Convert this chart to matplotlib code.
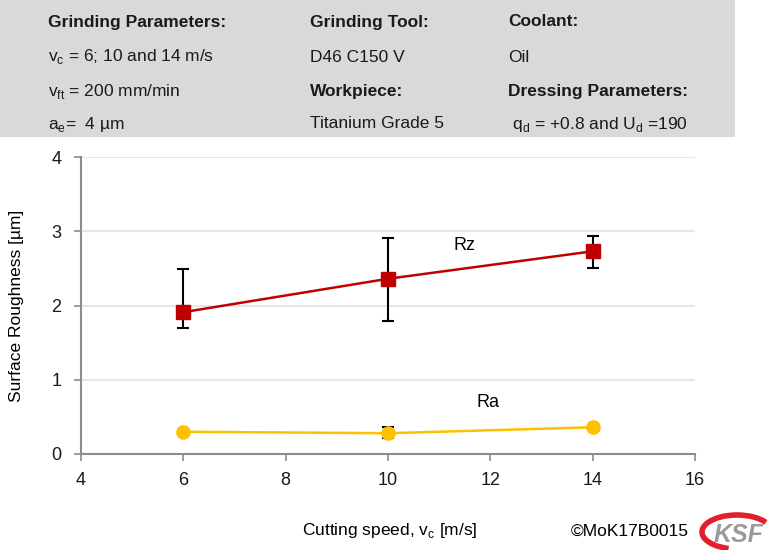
import numpy as np
import matplotlib.pyplot as plt
from matplotlib.patches import Rectangle, Arc

# data
speed = [6, 10, 14]
rz = [1.91, 2.36, 2.73]
rz_low = [1.70, 1.79, 2.51]
rz_high = [2.49, 2.91, 2.94]
ra = [0.30, 0.28, 0.36]
ra_low = [0.28, 0.22, 0.34]
ra_high = [0.32, 0.36, 0.38]

header_rows = [
    ['Grinding Parameters:', 'Grinding Tool:', 'Coolant:'],
    [r'v$_\mathregular{c}$ = 6; 10 and 14 m/s', 'D46 C150 V', 'Oil'],
    [r'v$_\mathregular{ft}$ = 200 mm/min', 'Workpiece:', 'Dressing Parameters:'],
    [r'a$_\mathregular{e}$=  4 µm', 'Titanium Grade 5', r' q$_\mathregular{d}$ = +0.8 and U$_\mathregular{d}$ =190'],
]
bold_cells = {(0, 0), (0, 1), (0, 2), (2, 1), (2, 2)}

plt.rcParams['font.family'] = ['Liberation Sans', 'DejaVu Sans']
plt.rcParams['mathtext.fontset'] = 'custom'
plt.rcParams['mathtext.rm'] = 'Liberation Sans'

fig = plt.figure(figsize=(7.69, 5.5), dpi=100)

# header box
W, H = 769, 550
fig.patches.append(Rectangle((0, 1 - 137 / H), 735 / W, 137 / H, transform=fig.transFigure,
                             facecolor='#d9d9d9', edgecolor='none', zorder=0))
col_x = [48, 310, 508]
row_y = [22, 57, 91, 124]
for r, row in enumerate(header_rows):
    for c, txt in enumerate(row):
        fig.text(col_x[c] / W, 1 - row_y[r] / H, txt, fontsize=12.5, va='center', ha='left',
                 fontweight='bold' if (r, c) in bold_cells else 'normal', color='#1a1a1a')

ax = fig.add_axes([81 / W, 1 - 454 / H, (695 - 81) / W, (454 - 157) / H])

gray = '#8c8c8c'
ax.errorbar(speed, rz, yerr=[np.subtract(rz, rz_low), np.subtract(rz_high, rz)], fmt='none',
            ecolor='black', elinewidth=1.5, capsize=4.5, capthick=1.5, zorder=2)
ax.errorbar(speed, ra, yerr=[np.subtract(ra, ra_low), np.subtract(ra_high, ra)], fmt='none',
            ecolor='black', elinewidth=1.5, capsize=4.5, capthick=1.5, zorder=2)
ax.plot(speed, rz, color='#c00000', lw=1.8, marker='s', ms=10, zorder=3)
ax.plot(speed, ra, color='#ffc000', lw=1.8, marker='o', ms=9.5, zorder=3)

ax.text(11.5, 2.81, 'Rz', fontsize=13, ha='center', va='center')
ax.text(11.95, 0.69, 'Ra', fontsize=13, ha='center', va='center')

ax.set_xlim(4, 16)
ax.set_ylim(0, 4)
ax.set_xticks(np.arange(4, 17, 2))
ax.set_yticks(np.arange(0, 5, 1))
ax.grid(axis='y', color='#e6e6e6', lw=1.5)
ax.set_axisbelow(True)
for s in ['top', 'right']:
    ax.spines[s].set_visible(False)
for s in ['left', 'bottom']:
    ax.spines[s].set_color(gray)
    ax.spines[s].set_linewidth(1.5)
ax.tick_params(colors=gray, labelcolor='#1a1a1a', labelsize=13, length=5, width=1.2)
ax.tick_params(axis='x', pad=8)
ax.tick_params(axis='y', pad=9)
ax.set_ylabel('Surface Roughness [µm]', fontsize=12.5, labelpad=20)

fig.text(390 / W, 1 - 531 / H, r'Cutting speed, v$_\mathregular{c}$ [m/s]', fontsize=12.5,
         ha='center', va='center')
fig.text(689 / W, 1 - 531 / H, '©MoK17B0015', fontsize=12.5, ha='right', va='center')

# KSF logo
fig.patches.append(Arc((737 / W, 1 - 532 / H), 70 / W, 34 / H, theta1=25, theta2=250,
                       transform=fig.transFigure, color='#e0202a', lw=4))
fig.text(738 / W, 1 - 535 / H, 'KSF', fontsize=18, fontweight='bold', style='italic',
         color='#9a9a9a', ha='center', va='center')

plt.savefig('out.png', dpi=100)
